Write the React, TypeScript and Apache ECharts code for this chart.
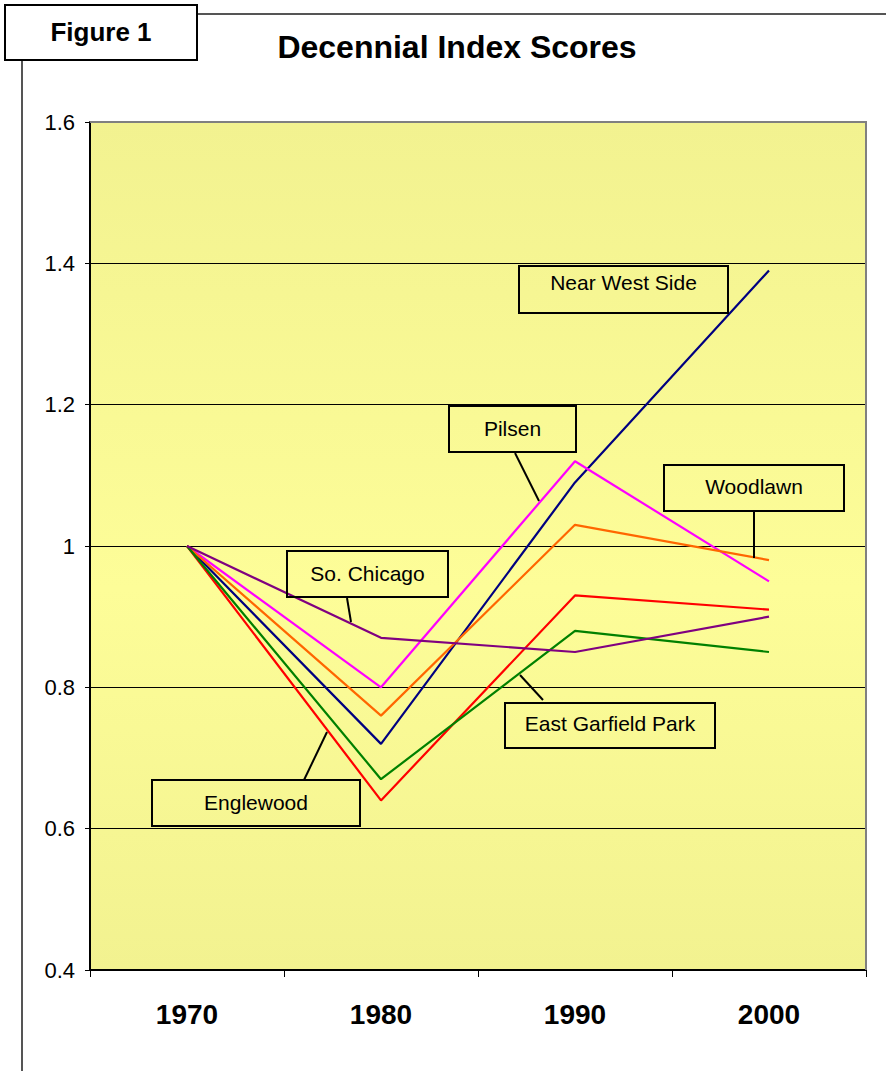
import React, { useEffect, useRef } from "react";
import * as echarts from "echarts";

const years = ["1970", "1980", "1990", "2000"];
const nearWestSide = [1.0, 0.72, 1.09, 1.39];
const pilsen = [1.0, 0.8, 1.12, 0.95];
const woodlawn = [1.0, 0.76, 1.03, 0.98];
const englewood = [1.0, 0.64, 0.93, 0.91];
const eastGarfieldPark = [1.0, 0.67, 0.88, 0.85];
const soChicago = [1.0, 0.87, 0.85, 0.9];

const FONT = "'Liberation Sans', Arial, sans-serif";

type Box = { name: string; x: number; y: number; w: number; h: number; ty: number; leader?: number[] };
const boxes: Box[] = [
  { name: "Near West Side", x: 519, y: 266, w: 209, h: 47, ty: 282 },
  { name: "Pilsen", x: 449, y: 406, w: 127, h: 46, ty: 428, leader: [515, 453, 539, 501] },
  { name: "Woodlawn", x: 664, y: 465, w: 180, h: 46, ty: 486, leader: [754, 511, 754, 558] },
  { name: "So. Chicago", x: 287, y: 551, w: 161, h: 46, ty: 573, leader: [347, 598, 351, 622] },
  { name: "East Garfield Park", x: 505, y: 703, w: 210, h: 45, ty: 723, leader: [543, 700, 520, 675] },
  { name: "Englewood", x: 152, y: 780, w: 208, h: 46, ty: 802, leader: [304, 780, 327, 732] },
];

export default function App() {
  const ref = useRef<HTMLDivElement>(null);
  useEffect(() => {
    if (!ref.current) return;
    const chart = echarts.init(ref.current, null, { renderer: "svg" });
    const mk = (name: string, data: number[], color: string) => ({
      name,
      type: "line",
      data,
      symbol: "none",
      lineStyle: { color, width: 2.2 },
      itemStyle: { color },
      z: 3,
    });
    const graphics: any[] = [
      {
        type: "rect",
        shape: { x: 5, y: 5, width: 192, height: 55 },
        style: { fill: "#fff", stroke: "#000", lineWidth: 2 },
        z: 10,
      },
      {
        type: "text",
        x: 101,
        y: 32,
        style: { text: "Figure 1", font: `bold 26px ${FONT}`, fill: "#000", textAlign: "center", textVerticalAlign: "middle" },
        z: 11,
      },
      { type: "line", shape: { x1: 197, y1: 14, x2: 886, y2: 14 }, style: { stroke: "#555", lineWidth: 2 }, z: 9 },
      { type: "line", shape: { x1: 22, y1: 60, x2: 22, y2: 1071 }, style: { stroke: "#555", lineWidth: 2 }, z: 9 },
      { type: "line", shape: { x1: 90, y1: 122, x2: 867, y2: 122 }, style: { stroke: "#808080", lineWidth: 2 }, z: 4 },
      { type: "line", shape: { x1: 866, y1: 122, x2: 866, y2: 970 }, style: { stroke: "#808080", lineWidth: 2 }, z: 4 },
    ];
    boxes.forEach((b) => {
      graphics.push({
        type: "rect",
        shape: { x: b.x, y: b.y, width: b.w, height: b.h },
        style: { fill: "rgba(0,0,0,0)", stroke: "#000", lineWidth: 2 },
        z: 20,
      });
      graphics.push({
        type: "text",
        x: b.x + b.w / 2,
        y: b.ty,
        style: { text: b.name, font: `21px ${FONT}`, fill: "#000", textAlign: "center", textVerticalAlign: "middle" },
        z: 21,
      });
      if (b.leader) {
        graphics.push({
          type: "line",
          shape: { x1: b.leader[0], y1: b.leader[1], x2: b.leader[2], y2: b.leader[3] },
          style: { stroke: "#000", lineWidth: 2 },
          z: 20,
        });
      }
    });
    chart.setOption({
      animation: false,
      title: {
        text: "Decennial Index Scores",
        left: 452,
        top: 26,
        textAlign: "center",
        textStyle: { fontFamily: FONT, fontWeight: "bold", fontSize: 32, color: "#000" },
      },
      grid: {
        left: 90,
        right: 20,
        top: 122,
        bottom: 101,
        show: true,
        borderWidth: 0,
        backgroundColor: {
          type: "linear",
          x: 0,
          y: 0,
          x2: 0,
          y2: 1,
          colorStops: [
            { offset: 0, color: "#f2f290" },
            { offset: 0.55, color: "#fdfd98" },
            { offset: 1, color: "#f2f290" },
          ],
        },
      },
      xAxis: {
        type: "category",
        data: years,
        boundaryGap: true,
        axisLine: { lineStyle: { color: "#000", width: 2 } },
        axisTick: { show: true, length: 7, lineStyle: { color: "#000", width: 1 } },
        axisLabel: { fontFamily: FONT, fontWeight: "bold", fontSize: 28, color: "#000", margin: 30 },
        splitLine: { show: false },
      },
      yAxis: {
        type: "value",
        min: 0.4,
        max: 1.6,
        interval: 0.2,
        axisLine: { show: true, lineStyle: { color: "#000", width: 2 } },
        axisTick: { show: true, length: 5, lineStyle: { color: "#000" } },
        axisLabel: {
          fontFamily: FONT,
          fontSize: 22,
          color: "#000",
          margin: 15,
          formatter: (v: number) => {
            const r = Math.round(v * 10) / 10;
            return r === 1 ? "1" : r.toFixed(1);
          },
        },
        splitLine: { show: true, lineStyle: { color: "#000", width: 1 } },
      },
      graphic: graphics,
      series: [
        mk("Near West Side", nearWestSide, "#000080"),
        mk("Pilsen", pilsen, "#ff00ff"),
        mk("Woodlawn", woodlawn, "#ff6600"),
        mk("Englewood", englewood, "#ff0000"),
        mk("East Garfield Park", eastGarfieldPark, "#008000"),
        mk("So. Chicago", soChicago, "#800080"),
      ],
    });
    return () => chart.dispose();
  }, []);
  return (
    <div
      ref={ref}
      style={{ position: "fixed", left: 0, top: 0, width: 886, height: 1071, background: "#fff" }}
    />
  );
}
